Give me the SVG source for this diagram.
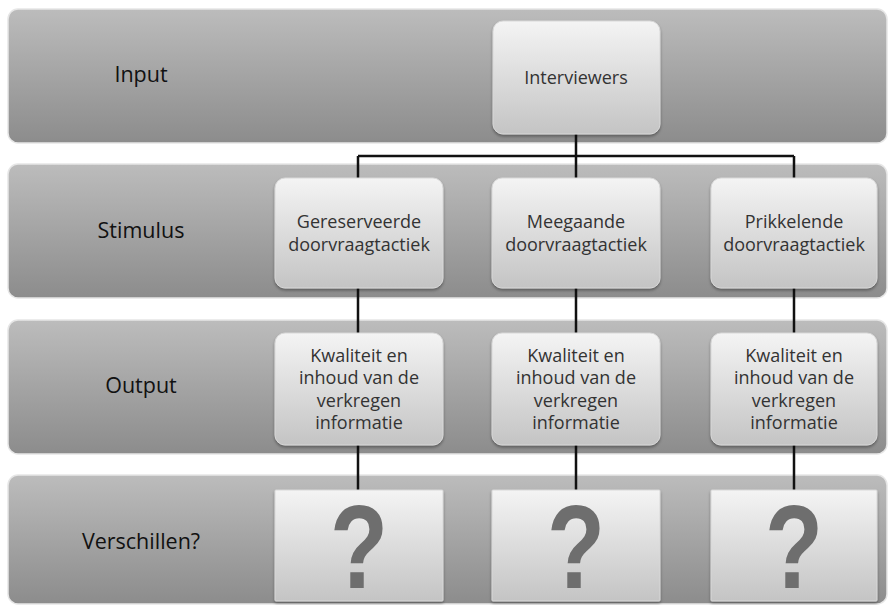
<svg xmlns="http://www.w3.org/2000/svg" width="889" height="605" viewBox="0 0 889 605">
<defs>
<linearGradient id="band" x1="0" y1="0" x2="0" y2="1">
<stop offset="0" stop-color="#bcbcbc"/><stop offset="1" stop-color="#8c8c8c"/>
</linearGradient>
<linearGradient id="box" x1="0" y1="0" x2="0" y2="1">
<stop offset="0" stop-color="#f4f4f4"/><stop offset="1" stop-color="#c4c4c4"/>
</linearGradient>
<filter id="sh" x="-10%" y="-10%" width="120%" height="125%">
<feDropShadow dx="0" dy="2" stdDeviation="1.5" flood-color="#000" flood-opacity="0.35"/>
</filter>
</defs>
<style>
.band{fill:url(#band);stroke:#e6e6e6;stroke-width:1.5}
.box{fill:url(#box);stroke:#d8d8d8;stroke-width:1;filter:url(#sh)}
.lbl{font-family:"Open Sans","Liberation Sans",sans-serif;font-size:21.5px;fill:#111;text-anchor:middle}
.t{font-family:"Open Sans","Liberation Sans",sans-serif;font-size:18px;fill:#333;text-anchor:middle}
.q{font-family:"Liberation Sans",Arial,sans-serif;font-size:100px;font-weight:bold;fill:#6e6e6e;text-anchor:middle}
.c{stroke:#111;stroke-width:2.5;fill:none}
</style>
<rect width="889" height="605" fill="#ffffff"/>
<g id="bands">
<rect class="band" x="8" y="9" width="879" height="134" rx="10"/>
<rect class="band" x="8" y="164" width="879" height="134" rx="10"/>
<rect class="band" x="8" y="320" width="879" height="134" rx="10"/>
<rect class="band" x="8" y="475" width="879" height="129" rx="10"/>
</g>
<g id="row-labels">
<text class="lbl" x="141" y="82">Input</text>
<text class="lbl" x="141" y="238">Stimulus</text>
<text class="lbl" x="141" y="393">Output</text>
<text class="lbl" x="141" y="549">Verschillen?</text>
</g>
<g id="connectors">
<path class="c" d="M576 134 V156 M358 156 H794 M358 156 V178 M576 156 V178 M794 156 V178"/>
<path class="c" d="M358 288 V333 M576 288 V333 M794 288 V333"/>
<path class="c" d="M358 445 V490 M576 445 V490 M794 445 V490"/>
</g>
<g id="interviewers">
<rect class="box" x="493" y="21" width="167" height="113" rx="10"/>
<text class="t" x="576" y="84">Interviewers</text>
</g>
<g id="gereserveerd">
<rect class="box" x="275" y="178" width="168" height="110" rx="10"/>
<text class="t" x="359" y="228">Gereserveerde</text>
<text class="t" x="359" y="251">doorvraagtactiek</text>
</g>
<g id="meegaand">
<rect class="box" x="492" y="178" width="168" height="110" rx="10"/>
<text class="t" x="576" y="228">Meegaande</text>
<text class="t" x="576" y="251">doorvraagtactiek</text>
</g>
<g id="prikkelend">
<rect class="box" x="711" y="178" width="166" height="110" rx="10"/>
<text class="t" x="794" y="228">Prikkelende</text>
<text class="t" x="794" y="251">doorvraagtactiek</text>
</g>
<g id="output1">
<rect class="box" x="275" y="333" width="168" height="112" rx="10"/>
<text class="t" x="359" y="362">Kwaliteit en</text>
<text class="t" x="359" y="384">inhoud van de</text>
<text class="t" x="359" y="407">verkregen</text>
<text class="t" x="359" y="429">informatie</text>
</g>
<g id="output2">
<rect class="box" x="492" y="333" width="168" height="112" rx="10"/>
<text class="t" x="576" y="362">Kwaliteit en</text>
<text class="t" x="576" y="384">inhoud van de</text>
<text class="t" x="576" y="407">verkregen</text>
<text class="t" x="576" y="429">informatie</text>
</g>
<g id="output3">
<rect class="box" x="711" y="333" width="166" height="112" rx="10"/>
<text class="t" x="794" y="362">Kwaliteit en</text>
<text class="t" x="794" y="384">inhoud van de</text>
<text class="t" x="794" y="407">verkregen</text>
<text class="t" x="794" y="429">informatie</text>
</g>
<g id="q1">
<rect class="box" x="275" y="490" width="168" height="111" rx="1"/>
<text class="q" transform="translate(359 588) scale(0.95 1.18)">?</text>
</g>
<g id="q2">
<rect class="box" x="492" y="490" width="168" height="111" rx="1"/>
<text class="q" transform="translate(576 588) scale(0.95 1.18)">?</text>
</g>
<g id="q3">
<rect class="box" x="711" y="490" width="166" height="111" rx="1"/>
<text class="q" transform="translate(794 588) scale(0.95 1.18)">?</text>
</g>
</svg>
